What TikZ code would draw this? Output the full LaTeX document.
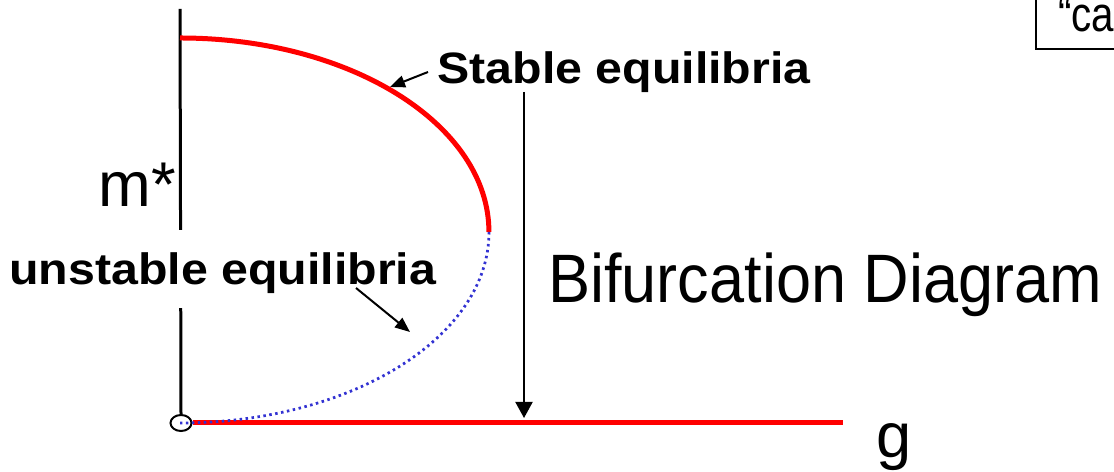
\documentclass[tikz,border=0pt]{standalone}
\usepackage{fontspec}
\setmainfont{Liberation Sans}
\newfontfamily\widebold[FakeStretch=1.1]{Liberation Sans Bold}
\newfontfamily\tallfont[FakeStretch=0.92]{Liberation Sans}
\newfontfamily\boxfont[FakeStretch=0.82]{Liberation Sans}
\usetikzlibrary{arrows.meta,positioning,shapes.geometric}
\definecolor{cStab}{RGB}{255,0,0}
\definecolor{cUnst}{RGB}{50,50,210}

\begin{document}
\begin{tikzpicture}[
  x=0.02cm,y=0.02cm,
  axis/.style={line width=0.06cm},
  stab/.style={cStab,line width=0.1cm},
  unst/.style={cUnst,line width=0.055cm,dash pattern=on 0.05cm off 0.07cm},
  big/.style={font=\fontsize{36}{40}\selectfont,inner sep=0},
  lbl/.style={font=\widebold\fontsize{25}{30}\selectfont,inner sep=0},
  ptr/.style={-{Triangle[length=0.3cm,width=0.24cm]},line width=0.04cm},
]
\useasboundingbox (0,0) rectangle (1114,472);
\node[draw,ellipse,line width=0.04cm,minimum width=0.42cm,minimum height=0.32cm,
      inner sep=0] (orig) at (181,49) {};
\coordinate (top)  at (180,463);
\coordinate (gend) at (843,49);
\coordinate (peak) at (180,434);
\coordinate (fold) at (489,240);
\draw[axis] (top) -- (orig.north);
\draw[stab] (orig.east) -- (gend);
\draw[stab] (peak) arc[start angle=90,end angle=0,x radius=6.18cm,y radius=3.88cm];
\draw[unst] (fold) arc[start angle=0,end angle=-90,x radius=6.18cm,y radius=3.82cm];

\node[lbl,fill=white,text height=1.1cm,text depth=0.46cm,anchor=base west] (unlab)
  at (9,187) {unstable equilibria};
\node[lbl,anchor=base west] (stlab) at (437,388) {Stable equilibria};
\node[big,anchor=base west] (mlab)  at (98,265)  {m*};
\node[big,font=\tallfont\fontsize{39}{42}\selectfont,anchor=base west] (bdlab)
  at (548,169) {Bifurcation Diagram};
\node[big,anchor=base west] (glab)  at (876,14)  {g};
\node[draw,line width=0.04cm,anchor=south west,font=\boxfont\fontsize{28}{30}\selectfont,
      inner xsep=0.44cm,inner ysep=0.34cm,text depth=0pt] (catas) at (1035,422) {“ca};

\coordinate (sttail) at (428,400);
\coordinate (sthead) at (390,385);
\coordinate (untail) at (356,184);
\coordinate (unhead) at (410,140);
\coordinate (bdtop)  at (524,380);
\coordinate (bdbot)  at (524,54);
\draw[ptr] (sttail) -- (sthead);
\draw[ptr] (untail) -- (unhead);
\draw[-{Triangle[length=0.32cm,width=0.34cm]},line width=0.04cm] (bdtop) -- (bdbot);
\end{tikzpicture}
\end{document}
